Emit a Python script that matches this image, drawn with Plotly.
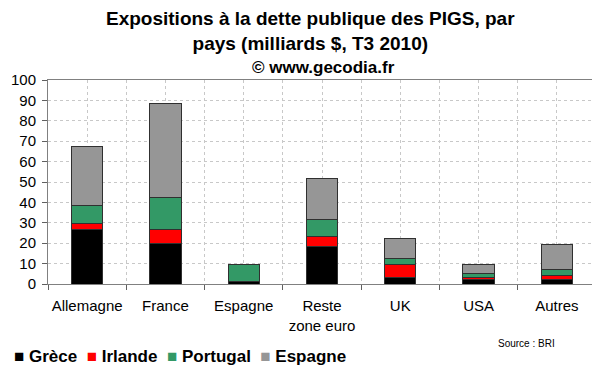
import plotly.graph_objects as go

categories = ["Allemagne", "France", "Espagne", "Reste<br>zone euro", "UK", "USA", "Autres"]
series_names = ["Grèce", "Irlande", "Portugal", "Espagne"]
grece = [26.7, 20.0, 1.3, 18.5, 3.4, 2.3, 2.3]
irlande = [3.1, 6.5, 0.0, 4.6, 6.4, 0.8, 2.0]
portugal = [8.5, 16.1, 8.5, 8.5, 2.6, 2.0, 2.7]
espagne = [29.1, 45.9, 0.0, 20.1, 10.0, 4.6, 12.6]
y_ticks = list(range(0, 101, 10))

colors = ["#000000", "#ff0000", "#339966", "#969696"]
values = [grece, irlande, portugal, espagne]
xpos = list(range(len(categories)))

fig = go.Figure()
for name, vals, col in zip(series_names, values, colors):
    fig.add_trace(go.Bar(
        x=xpos, y=vals, name=name, marker_color=col,
        marker_line=dict(color="#303030", width=1),
        showlegend=False,
    ))

FONT = "Liberation Sans, Arial, sans-serif"
grid_col = "#c8c8c8"

# page body has an 8px default margin: figure is 592x364 drawn at (8, 8)
fig.update_layout(
    width=592, height=364,
    barmode="stack", bargap=0.6,
    plot_bgcolor="white", paper_bgcolor="white",
    margin=dict(l=34, r=3, t=72, b=88),
    font=dict(family=FONT, size=15, color="#000000"),
    xaxis=dict(
        range=[-0.5, len(categories) - 0.5],
        tickvals=xpos, ticktext=categories,
        ticks="", ticklabelstandoff=8,
        showgrid=True, gridcolor=grid_col, griddash="dot", gridwidth=1,
        showline=True, linecolor="#808080", linewidth=1, mirror=True,
        zeroline=False,
        minor=dict(tick0=-0.5, dtick=1, ticks="outside", ticklen=5,
                   tickcolor="#606060", showgrid=True, gridcolor=grid_col,
                   griddash="dot", gridwidth=1),
        tickfont=dict(size=15),
    ),
    yaxis=dict(
        range=[0, 100], tickvals=y_ticks,
        ticks="outside", ticklen=5, tickcolor="#606060",
        showgrid=True, gridcolor=grid_col, griddash="dot", gridwidth=1,
        showline=True, linecolor="#808080", linewidth=1, mirror=True,
        zeroline=False, tickfont=dict(size=15), ticklabelstandoff=3,
    ),
)

# positions below expressed in page pixels relative to the plot area (x0=42, x1=597, y0=284, y1=80)
def px(X):
    return (X - 42) / 555

def py(Y):
    return (284 - Y) / 204

annots = []
annots.append(dict(
    text="<b>Expositions à la dette publique des PIGS, par<br>pays (milliards $, T3 2010)</b>",
    xref="paper", yref="paper", x=px(308), y=py(6),
    xanchor="center", yanchor="top", showarrow=False,
    font=dict(size=19, family=FONT), align="center",
))
annots.append(dict(
    text="<b>© www.gecodia.fr</b>",
    xref="paper", yref="paper", x=px(321), y=py(67),
    xanchor="center", yanchor="middle", showarrow=False,
    font=dict(size=17, family=FONT),
))
legend_txt = "  ".join(
    f"<span style='color:{c}'>■</span> <b>{n}</b>" for n, c in zip(series_names, colors)
)
annots.append(dict(
    text=legend_txt,
    xref="paper", yref="paper", x=px(6), y=py(356),
    xanchor="left", yanchor="middle", showarrow=False,
    font=dict(size=17, family=FONT),
))
annots.append(dict(
    text="Source : BRI",
    xref="paper", yref="paper", x=px(558), y=py(343),
    xanchor="right", yanchor="middle", showarrow=False,
    font=dict(size=10, family=FONT),
))
fig.layout.annotations = annots

fig.write_html("out.html")
